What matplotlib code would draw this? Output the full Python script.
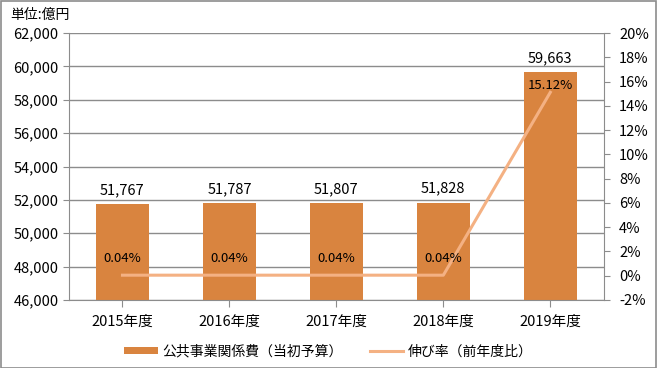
import matplotlib.pyplot as plt
from matplotlib.patches import Rectangle

plt.rcParams['font.family'] = ['Noto Sans CJK JP', 'DejaVu Sans']

# data
years = ['2015年度', '2016年度', '2017年度', '2018年度', '2019年度']
budget = [51767, 51787, 51807, 51828, 59663]
growth = [0.04, 0.04, 0.04, 0.04, 15.12]

bar_color = '#D9843F'
line_color = '#F4B183'
grid_color = '#8C8C8C'

fig = plt.figure(figsize=(6.57, 3.68), dpi=100)
ax = fig.add_axes([0.105, 0.185, 0.814, 0.725])
ax2 = ax.twinx()

x = list(range(len(years)))
bars = ax.bar(x, budget, width=0.5, color=bar_color, zorder=2, label='公共事業関係費（当初予算）')
ax.set_ylim(46000, 62000)
ax.set_yticks(range(46000, 62001, 2000))
ax.set_yticklabels([f'{v:,}' for v in range(46000, 62001, 2000)])
ax.set_xlim(-0.5, len(years) - 0.5)
ax.set_xticks(x)
ax.set_xticklabels(years)
ax.grid(axis='y', color=grid_color, linewidth=1, zorder=0)
ax.set_axisbelow(True)

for xi, v in zip(x, budget):
    ax.annotate(f'{v:,}', (xi, v), xytext=(0, 5), textcoords='offset points',
                ha='center', va='bottom', fontsize=10.5, color='#000000')

line, = ax2.plot(x, growth, color=line_color, linewidth=2.2, zorder=3, label='伸び率（前年度比）')
ax2.set_ylim(-2, 20)
ax2.set_yticks(range(-2, 21, 2))
ax2.set_yticklabels([f'{v}%' for v in range(-2, 21, 2)])
for xi, g in zip(x, growth):
    # top label sits close to the point, the low ones further up
    off = 0 if g > 10 else 7
    ax2.annotate(f'{g:.2f}%', (xi, g), xytext=(0, off), textcoords='offset points',
                 ha='center', va='bottom', fontsize=9.5, color='#000000')

for a in (ax, ax2):
    for s in a.spines.values():
        s.set_visible(False)
    a.tick_params(labelsize=10.5, colors='#000000', length=4)
ax.spines['left'].set_visible(True)
ax.spines['left'].set_color(grid_color)
ax.spines['bottom'].set_visible(True)
ax.spines['bottom'].set_color(grid_color)
ax2.spines['right'].set_visible(True)
ax2.spines['right'].set_color(grid_color)
ax.tick_params(axis='both', color=grid_color)
ax2.tick_params(axis='y', color=grid_color, pad=7)
ax.tick_params(axis='x', length=5, pad=6)

fig.text(0.015, 0.96, '単位:億円', fontsize=10, va='center', ha='left')

fig.legend(handles=[bars, line], loc='center', bbox_to_anchor=(0.5, 0.045), ncol=2,
           frameon=False, fontsize=10, handlelength=2.4, handleheight=0.5,
           handletextpad=0.3, columnspacing=2.0)

fig.patches.append(Rectangle((0.001, 0.001), 0.997, 0.997, transform=fig.transFigure,
                             fill=False, edgecolor='#8C8C8C', linewidth=1.2))

fig.savefig('out.png', dpi=100)
